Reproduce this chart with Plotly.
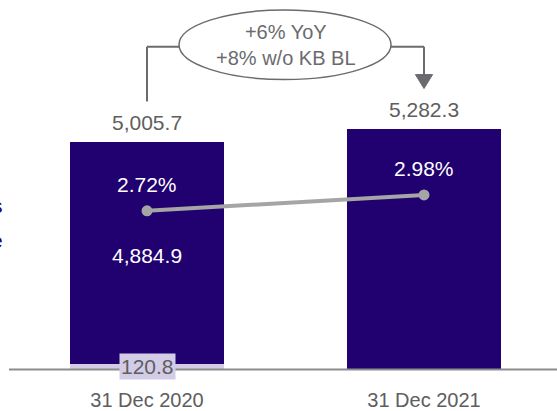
import plotly.graph_objects as go

categories = ["31 Dec 2020", "31 Dec 2021"]
main_values = [4884.9, 5282.3]
sub_values = [120.8, 0.0]
totals = [5005.7, 5282.3]
rates = [2.72, 2.98]
rate_labels = ["2.72%", "2.98%"]
total_labels = ["5,005.7", "5,282.3"]
main_labels = ["4,884.9", ""]
sub_labels = ["120.8", ""]
callout_lines = ["+6% YoY", "+8% w/o KB BL"]

DARK = "#21006F"
LAV = "#D3CCE6"
GREY_TXT = "#5E5E5E"
LINE_GREY = "#A5A5A5"
CALL_GREY = "#6A6B6E"
FONT = "Liberation Sans, Arial, sans-serif"

W, H = 557, 411
PLOT_H = 371  # plot area height (px)

fig = go.Figure()
fig.add_trace(go.Bar(x=categories, y=sub_values, marker_color=LAV, width=0.556,
                     marker_line_width=0, showlegend=False, hoverinfo="skip"))
fig.add_trace(go.Bar(x=categories, y=main_values, marker_color=DARK, width=0.556,
                     marker_line_width=0, showlegend=False, hoverinfo="skip"))
fig.add_trace(go.Scatter(x=categories, y=rates, yaxis="y2", mode="lines+markers",
                         line=dict(color=LINE_GREY, width=4),
                         marker=dict(color=LINE_GREY, size=11),
                         showlegend=False, hoverinfo="skip"))

ann = []
for i, c in enumerate(categories):
    ann.append(dict(x=c, y=totals[i], xref="x", yref="y", text=total_labels[i],
                    showarrow=False, yanchor="middle", yshift=19,
                    font=dict(size=21, color=GREY_TXT, family=FONT)))
    ann.append(dict(x=c, y=rates[i], xref="x", yref="y2", text=rate_labels[i],
                    showarrow=False, yanchor="middle", yshift=26,
                    font=dict(size=21, color="white", family=FONT)))
    if main_labels[i]:
        ann.append(dict(x=c, y=sub_values[i] + main_values[i] / 2, xref="x", yref="y",
                        text=main_labels[i], showarrow=False, yanchor="middle", yshift=-3,
                        font=dict(size=21, color="white", family=FONT)))
    if sub_labels[i]:
        ann.append(dict(x=c, y=sub_values[i] / 2, xref="x", yref="y", text=sub_labels[i],
                        showarrow=False, yanchor="middle", bgcolor=LAV, borderpad=1,
                        font=dict(size=21, color=GREY_TXT, family=FONT)))

# callout text
ann.append(dict(x=0.5, y=1 - 45 / PLOT_H, xref="x", yref="paper",
                text="<br>".join(callout_lines), showarrow=False, yanchor="middle",
                font=dict(size=20, color=CALL_GREY, family=FONT)))
# partially cut-off text at left edge
ann.append(dict(x=5 / W, y=1 - 207 / PLOT_H, xref="paper", yref="paper", text="s",
                showarrow=False, xanchor="right", yanchor="middle",
                font=dict(size=21, color=DARK, family=FONT)))
ann.append(dict(x=5 / W, y=1 - 242 / PLOT_H, xref="paper", yref="paper", text="e",
                showarrow=False, xanchor="right", yanchor="middle",
                font=dict(size=21, color=DARK, family=FONT)))

def py(p):
    return 1 - p / PLOT_H

x_left, x_right = 0, 1
shapes = [
    # left bracket
    dict(type="line", xref="x", yref="paper", x0=x_left, x1=x_left, y0=py(102), y1=py(47),
         line=dict(color=CALL_GREY, width=2)),
    dict(type="line", xref="x", yref="paper", x0=x_left, x1=0.1155, y0=py(47), y1=py(47),
         line=dict(color=CALL_GREY, width=2)),
    # right bracket
    dict(type="line", xref="x", yref="paper", x0=0.881, x1=x_right, y0=py(47), y1=py(47),
         line=dict(color=CALL_GREY, width=2)),
    dict(type="line", xref="x", yref="paper", x0=x_right, x1=x_right, y0=py(47), y1=py(76),
         line=dict(color=CALL_GREY, width=2)),
    dict(type="path", xref="x", yref="paper",
         path=f"M {x_right-0.031},{py(75)} L {x_right+0.031},{py(75)} L {x_right},{py(89)} Z",
         fillcolor=CALL_GREY, line=dict(color=CALL_GREY, width=1)),
    # ellipse
    dict(type="circle", xref="x", yref="paper", x0=0.1155, x1=0.881, y0=py(80), y1=py(10),
         fillcolor="white", line=dict(color=CALL_GREY, width=1.5), layer="above"),
    # baseline
    dict(type="line", xref="paper", yref="paper", x0=9 / W, x1=1, y0=py(371.5), y1=py(371.5),
         line=dict(color="#8C8C8C", width=2)),
]

fig.update_layout(
    width=W, height=H,
    margin=dict(l=0, r=0, t=0, b=H - PLOT_H),
    barmode="stack",
    plot_bgcolor="white", paper_bgcolor="white",
    xaxis=dict(type="category", range=[-0.5307, 1.4801], showgrid=False, zeroline=False,
               showline=False, ticks="", ticklabelstandoff=17,
               tickfont=dict(size=20, color=GREY_TXT, family=FONT)),
    yaxis=dict(range=[0, 8120], visible=False, showgrid=False, zeroline=False),
    yaxis2=dict(range=[0.134, 6.167], overlaying="y", visible=False, showgrid=False,
                zeroline=False),
    annotations=ann,
    shapes=shapes,
    font=dict(family=FONT),
)

fig.write_html("out.html", config={"displayModeBar": False},
               post_script="document.body.style.margin='0';document.body.style.overflow='hidden';")
